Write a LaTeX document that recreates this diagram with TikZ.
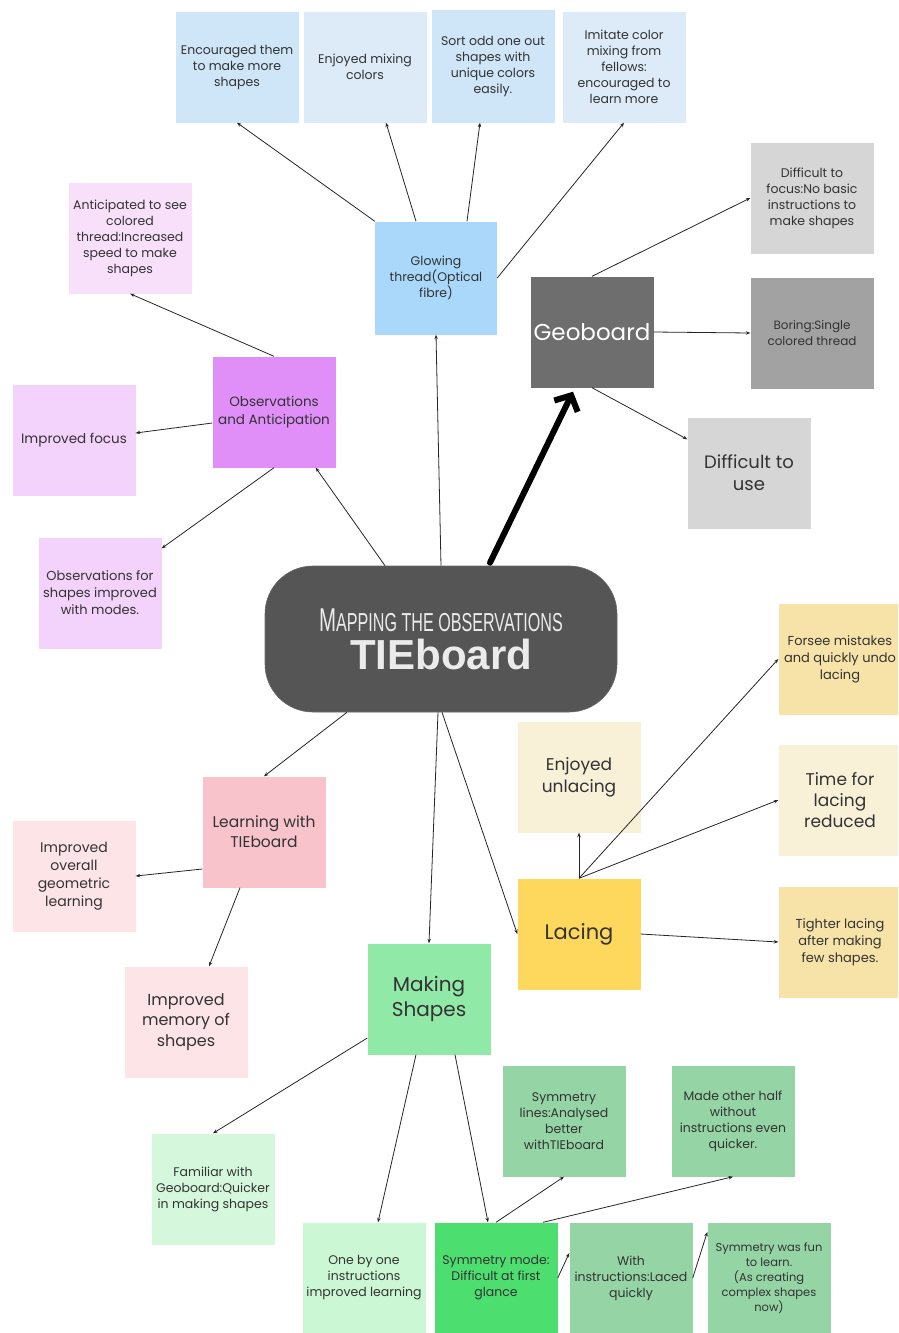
\documentclass[tikz,border=0pt]{standalone}
\usepackage{fontspec}
\setmainfont{Poppins}
\newfontfamily\condfont[FakeStretch=0.62]{Liberation Sans}
\newfontfamily\headfont{Liberation Sans}
\usetikzlibrary{arrows.meta}
\definecolor{txt}{HTML}{333333}
\definecolor{blueA}{HTML}{CFE5F8}
\definecolor{blueB}{HTML}{DDEBF9}
\definecolor{blueC}{HTML}{A9D8FA}
\definecolor{pinkA}{HTML}{F8E0FB}
\definecolor{purpA}{HTML}{E08EF8}
\definecolor{purpB}{HTML}{F3D2FB}
\definecolor{centr}{HTML}{555555}
\definecolor{geoC}{HTML}{6E6E6E}
\definecolor{grayA}{HTML}{D6D6D6}
\definecolor{grayB}{HTML}{A2A2A2}
\definecolor{yelA}{HTML}{F7E3A8}
\definecolor{yelB}{HTML}{F9F0D8}
\definecolor{yelC}{HTML}{FDD85C}
\definecolor{redA}{HTML}{F9C3CC}
\definecolor{redB}{HTML}{FDE4E7}
\definecolor{grnA}{HTML}{91E9A8}
\definecolor{grnB}{HTML}{D5F8DD}
\definecolor{grnC}{HTML}{94D4A5}
\definecolor{grnD}{HTML}{CCF7D5}
\definecolor{grnE}{HTML}{4DDE70}
\newcommand\fsz[2]{\fontsize{#1}{#2}\selectfont}
\begin{document}
\begin{tikzpicture}[x=1pt,y=-1pt,
  box/.style={minimum width=123pt, minimum height=111pt, inner sep=1pt, align=center, text=txt, font=\fsz{12.5}{16}},
  arr/.style={-{Stealth[length=4.5pt,width=3.5pt]}, line width=0.8pt, draw=black!85},
  bigarr/.style={-{Straight Barb[length=12pt,width=26pt]}, line width=6pt, line cap=round, draw=black}]
\useasboundingbox (0,0) rectangle (898,1333);
\clip (0,0) rectangle (898,1333);
\fill[white] (0,0) rectangle (898,1333);

% top row
\node[box, fill=blueA] (t1) at (237,67) {Encouraged them\\to make more\\shapes};
\node[box, fill=blueB] (t2) at (365,67) {Enjoyed mixing\\colors};
\node[box, fill=blueA, minimum height=113pt] (t3) at (493,66) {Sort odd one out\\shapes with\\unique colors\\easily.};
\node[box, fill=blueB] (t4) at (624,67) {Imitate color\\mixing from\\fellows:\\encouraged to\\learn more};
\node[box, fill=blueC, minimum width=122pt, minimum height=113pt] (glow) at (436,278) {Glowing\\thread(Optical\\fibre)};

% left purple
\node[box, fill=pinkA] (antic) at (130,238) {Anticipated to see\\colored\\thread:Increased\\speed to make\\shapes};
\node[box, fill=purpA, font=\fsz{13.5}{18}] (obs) at (274,412) {Observations\\and Anticipation};
\node[box, fill=purpB, font=\fsz{13.5}{17}] (focus) at (74,440) {Improved focus};
\node[box, fill=purpB, font=\fsz{13}{17}] (obsfor) at (100,593) {Observations for\\shapes improved\\with modes.};

% central
\node[fill=centr, draw=black!60, line width=0.6pt, rounded corners=48pt, minimum width=352pt, minimum height=146pt, align=center, text=white!92!black, inner sep=0pt, font=\fsz{26}{38}] (center) at (441,639)
  {{\condfont\fsz{33}{38}M\fsz{26}{38}APPING THE OBSERVATIONS}\\{\headfont\bfseries\fsz{42}{44}TIEboard}};

% geoboard
\node[box, fill=geoC, text=white, font=\fsz{23}{28}] (geo) at (592,332) {Geoboard};
\node[box, fill=grayA] (dfocus) at (812,198) {Difficult to\\focus:No basic\\instructions to\\make shapes};
\node[box, fill=grayB, font=\fsz{12}{16}] (boring) at (812,333) {Boring:Single\\colored thread};
\node[box, fill=grayA, font=\fsz{18}{22}] (duse) at (749,473) {Difficult to\\use};

% lacing
\node[box, fill=yelA, font=\fsz{13}{17}] (forsee) at (840,659) {Forsee mistakes\\and quickly undo\\lacing};
\node[box, fill=yelB, font=\fsz{17}{22}] (unlace) at (579,777) {Enjoyed\\unlacing};
\node[box, fill=yelB, font=\fsz{17}{21}] (time) at (840,800) {Time for\\lacing\\reduced};
\node[box, fill=yelC, font=\fsz{21}{26}] (lacing) at (579,934) {Lacing};
\node[box, fill=yelA, font=\fsz{13}{17}] (tight) at (840,942) {Tighter lacing\\after making\\few shapes.};

% learning
\node[box, fill=redA, font=\fsz{15.5}{20}] (learn) at (264,832) {Learning with\\TIEboard};
\node[box, fill=redB, font=\fsz{14}{18}] (overall) at (74,876) {Improved\\overall\\geometric\\learning};
\node[box, fill=redB, font=\fsz{16}{20.5}] (memory) at (186,1022) {Improved\\memory of\\shapes};

% making shapes
\node[box, fill=grnA, font=\fsz{20}{25}] (making) at (429,999) {Making\\Shapes};
\node[box, fill=grnB] (famil) at (213,1189) {Familiar with\\Geoboard:Quicker\\in making shapes};
\node[box, fill=grnC] (symlines) at (564,1121) {Symmetry\\lines:Analysed\\better\\withTIEboard};
\node[box, fill=grnC] (half) at (733,1121) {Made other half\\without\\instructions even\\quicker.};
\node[box, fill=grnD] (onebyone) at (364,1278) {One by one\\instructions\\improved learning};
\node[box, fill=grnE] (symmode) at (496,1278) {Symmetry mode:\\Difficult at first\\glance};
\node[box, fill=grnC] (withins) at (631,1278) {With\\instructions:Laced\\quickly};
\node[box, fill=grnC, font=\fsz{11.5}{15}] (fun) at (769,1278) {Symmetry was fun\\to learn.\\(As creating\\complex shapes\\now)};

% connectors: glowing thread
\draw[arr] (glow.north west) -- (t1.south);
\draw[arr] ([xshift=-20pt]glow.north) -- ([xshift=21pt]t2.south);
\draw[arr] ([xshift=31pt]glow.north) -- ([xshift=-13pt]t3.south);
\draw[arr] (glow.east) -- (t4.south);
\draw[arr] (center.north) -- (glow.south);

% observations
\draw[arr] ([xshift=-56pt]center.north) -- ([xshift=-20pt]obs.south east);
\draw[arr] (obs.north) -- (antic.south);
\draw[arr] ([yshift=-11pt]obs.west) -- ([yshift=7pt]focus.east);
\draw[arr] (obs.south) -- ([yshift=-11pt]obsfor.north east);

% geoboard
\draw[bigarr] ([xshift=49pt,yshift=3pt]center.north) -- ([xshift=-19pt,yshift=-4pt]geo.south);
\draw[arr] (geo.north) -- (dfocus.west);
\draw[arr] (geo.east) -- (boring.west);
\draw[arr] (geo.south) -- ([yshift=-22pt]duse.north west);

% learning
\draw[arr] ([xshift=-94pt]center.south) -- (learn.north);
\draw[arr] ([yshift=-37pt]learn.west) -- (overall.east);
\draw[arr] ([xshift=-24pt]learn.south) -- ([xshift=23pt]memory.north);

% making / lacing
\draw[arr] ([xshift=-3pt]center.south) -- (making.north);
\draw[arr] ([xshift=1pt]center.south) -- (lacing.west);
\draw[arr] (lacing.north) -- (unlace.south);
\draw[arr] (lacing.north) -- (forsee.west);
\draw[arr] (lacing.north) -- (time.west);
\draw[arr] (lacing.east) -- (tight.west);

\draw[arr] ([yshift=-39pt]making.west) -- (famil.north);
\draw[arr] ([xshift=-13pt]making.south) -- ([xshift=14pt]onebyone.north);
\draw[arr] ([xshift=26pt]making.south) -- ([xshift=-8pt]symmode.north);
\draw[arr] (symmode.north) -- (symlines.south);
\draw[arr] ([xshift=47pt]symmode.north) -- (half.south);
\draw[arr] (symmode.east) -- ([yshift=25pt]withins.west);
\draw[arr] (withins.east) -- ([yshift=46pt]fun.west);
\end{tikzpicture}
\end{document}
